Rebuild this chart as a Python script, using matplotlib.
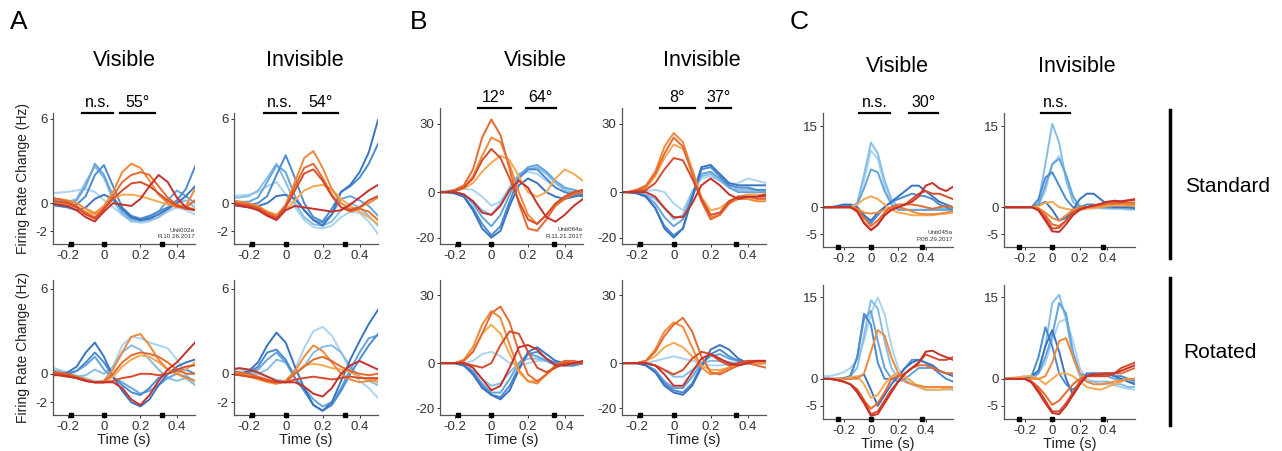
import matplotlib
matplotlib.use('Agg')
import matplotlib.pyplot as plt
import matplotlib.transforms as mtransforms

plt.rcParams['font.family'] = ['Liberation Sans', 'DejaVu Sans']
plt.rcParams['axes.unicode_minus'] = False

# time grids (s)
t_ab = [-0.3, -0.25, -0.2, -0.15, -0.1, -0.05, 0.0, 0.05, 0.1, 0.15, 0.2,
        0.25, 0.3, 0.35, 0.4, 0.45, 0.5]
t_c = [-0.35, -0.3, -0.25, -0.2, -0.15, -0.1, -0.05, 0.0, 0.05, 0.1, 0.15,
       0.2, 0.25, 0.3, 0.35, 0.4, 0.45, 0.5, 0.55, 0.6]

# light blue -> dark blue, light orange -> dark red
colors = ['#a9d3f0', '#86bde6', '#64a4dc', '#4a8bd0', '#3a74c0',
          '#f4a850', '#ee8a3a', '#e56a30', '#d84b2b', '#c8302a']

# ---- A : Unit002a ----
A_vis_std = [
    [0.7, 0.75, 0.8, 0.9, 1.0, 0.8, 0.2, -0.3, -0.8, -1.2, -1.4, -1.3, -1.0, -0.6, -0.3, -0.5, -0.8],
    [0.3, 0.2, 0.1, 0.3, 1.5, 2.6, 1.8, 0.2, -0.8, -1.3, -1.3, -1.2, -1.0, -0.5, 0.0, 0.2, -0.3],
    [0.1, 0.0, -0.1, 0.2, 1.2, 2.8, 2.0, 0.5, -0.6, -1.1, -1.2, -1.0, -0.6, 0.2, 0.9, 0.5, 0.0],
    [0.0, -0.1, -0.2, -0.1, 0.5, 2.0, 2.7, 1.2, -0.3, -0.9, -1.1, -0.9, -0.6, -0.3, 0.2, 1.0, 2.6],
    [-0.1, -0.2, -0.3, -0.5, -0.3, 0.3, 0.6, 0.3, -0.4, -1.0, -1.2, -1.1, -0.8, -0.4, 0.0, 0.5, 1.2],
    [0.1, 0.0, -0.1, -0.3, -0.6, -0.8, -0.3, 0.3, 0.6, 0.6, 0.5, 0.3, 0.1, -0.1, -0.2, -0.3, -0.4],
    [0.3, 0.3, 0.2, 0.0, -0.4, -0.7, -0.2, 0.8, 2.2, 2.8, 2.5, 1.6, 0.6, 0.0, -0.3, -0.2, 1.0],
    [0.4, 0.3, 0.1, -0.2, -0.7, -1.0, -0.4, 0.5, 1.5, 2.0, 2.2, 2.0, 1.2, 0.4, -0.1, -0.3, 0.2],
    [0.2, 0.1, 0.0, -0.3, -0.8, -1.1, -0.4, 0.3, 0.9, 1.4, 1.5, 1.2, 0.7, 0.2, -0.2, -0.4, -0.5],
    [0.0, -0.1, -0.2, -0.5, -1.0, -1.3, -0.6, 0.0, -0.1, -0.2, 0.3, 1.2, 2.0, 1.5, 0.4, -0.3, -0.5],
]
A_inv_std = [
    [0.5, 0.55, 0.6, 0.8, 1.2, 1.5, 0.6, -0.3, -1.2, -1.7, -1.8, -1.6, -1.0, -0.6, -0.7, -1.3, -2.2],
    [0.4, 0.4, 0.5, 0.9, 1.8, 2.8, 1.5, 0.0, -1.0, -1.5, -1.6, -1.3, -0.5, 0.0, -0.3, -0.9, -1.6],
    [0.2, 0.1, 0.1, 0.4, 1.5, 2.7, 2.2, 0.5, -0.5, -1.2, -1.4, -0.8, 0.3, 0.5, 0.2, -0.2, -0.9],
    [0.0, -0.1, -0.1, 0.0, 0.5, 2.0, 3.4, 1.8, 0.0, -1.0, -1.3, -0.4, 0.8, 1.2, 1.8, 2.8, 4.2],
    [-0.1, -0.2, -0.3, -0.2, 0.0, 0.5, 0.6, 0.3, -0.5, -1.2, -1.6, -0.8, 0.8, 1.3, 2.2, 3.6, 5.9],
    [0.0, -0.1, -0.2, -0.3, -0.6, -0.8, -0.5, 0.2, 0.9, 1.2, 1.3, 1.0, 0.3, -0.2, -0.6, -1.0, -1.5],
    [0.2, 0.1, 0.0, -0.2, -0.6, -0.9, -0.1, 1.5, 3.2, 3.7, 2.5, 1.0, 0.0, -0.4, -0.3, 0.0, 0.4],
    [0.1, 0.0, -0.1, -0.3, -0.7, -1.0, -0.2, 1.2, 2.5, 2.8, 1.8, 0.6, -0.3, -0.6, -0.4, -0.6, -1.2],
    [0.0, -0.1, -0.2, -0.4, -0.8, -1.1, -0.3, 0.9, 2.1, 2.4, 1.6, 0.5, -0.3, -0.5, -0.3, 0.2, 0.5],
    [-0.1, -0.2, -0.3, -0.5, -0.9, -1.2, -0.5, -0.2, -0.3, -0.4, -0.5, -0.6, -0.5, -0.1, 0.4, 0.9, 1.3],
]
A_vis_rot = [
    [0.5, 0.3, 0.1, -0.1, -0.3, -0.5, -0.5, 0.5, 2.0, 2.6, 2.5, 2.2, 2.0, 1.8, 1.0, 0.0, -0.8],
    [0.3, 0.2, 0.0, -0.2, -0.1, 0.3, 0.0, 0.5, 1.5, 2.0, 1.7, 1.0, 0.3, -0.3, -0.5, -0.3, -0.8],
    [0.0, 0.0, 0.0, 0.2, 0.6, 1.2, 0.3, -0.3, -0.6, -1.0, -1.4, -1.2, -0.8, -0.3, 0.0, -0.2, -0.5],
    [-0.1, 0.0, 0.0, 0.2, 0.8, 1.5, 0.8, -0.2, -0.8, -1.3, -1.5, -1.0, -0.3, 0.0, 0.2, 0.3, 0.0],
    [-0.2, 0.0, 0.1, 0.5, 1.5, 2.2, 1.2, -0.2, -1.2, -2.0, -2.3, -1.8, -0.8, 0.0, 0.5, 0.8, 1.0],
    [0.0, -0.1, -0.2, -0.3, -0.5, -0.6, -0.6, -0.2, 0.5, 1.0, 1.3, 1.2, 0.8, 0.3, 0.0, 0.3, 0.8],
    [0.1, 0.0, -0.1, -0.3, -0.5, -0.6, -0.5, 0.3, 1.5, 2.6, 2.8, 2.0, 1.0, 0.3, 0.0, -0.3, -0.5],
    [0.2, 0.1, 0.0, -0.2, -0.4, -0.6, -0.6, 0.0, 0.8, 1.3, 1.5, 1.4, 1.2, 0.8, 0.3, 0.0, 0.0],
    [0.0, 0.0, -0.1, -0.3, -0.5, -0.6, -0.6, -0.5, -0.3, -0.2, 0.0, 0.0, -0.1, 0.0, 0.3, 0.5, 0.6],
    [-0.1, -0.1, -0.2, -0.3, -0.5, -0.6, -0.6, -0.6, -1.0, -1.8, -2.2, -1.5, -0.5, 0.3, 0.8, 1.5, 2.2],
]
A_inv_rot = [
    [0.3, 0.3, 0.2, 0.0, -0.2, -0.4, -0.5, 0.3, 1.8, 3.0, 3.3, 2.7, 1.5, 0.3, -0.5, -1.0, -1.7],
    [0.2, 0.1, 0.0, 0.0, 0.3, 1.0, 0.8, 0.0, 0.5, 1.5, 1.9, 2.0, 1.5, 0.5, -0.2, -0.5, -0.8],
    [0.0, 0.0, 0.1, 0.3, 1.0, 1.5, 0.8, -0.3, -1.0, -1.8, -2.3, -2.0, -1.0, 0.3, 1.5, 2.5, 2.7],
    [-0.1, 0.0, 0.1, 0.5, 1.5, 1.7, 1.0, -0.3, -1.2, -2.2, -2.6, -2.2, -1.2, 0.0, 1.0, 2.0, 2.8],
    [-0.2, 0.0, 0.2, 0.8, 2.0, 2.9, 2.2, 0.5, -1.0, -2.2, -2.6, -2.0, -0.5, 1.0, 2.3, 3.5, 4.5],
    [0.0, -0.1, -0.2, -0.4, -0.6, -0.7, -0.5, 0.0, 0.6, 0.7, 0.6, 0.4, 0.3, 0.1, -0.2, -0.4, -0.6],
    [0.1, 0.0, -0.1, -0.3, -0.5, -0.7, -0.5, 0.2, 1.2, 2.0, 1.6, 0.8, 0.0, -0.4, -0.6, -0.5, -0.4],
    [0.2, 0.1, 0.0, -0.2, -0.4, -0.6, -0.6, 0.0, 0.5, 1.0, 1.2, 0.9, 0.5, 0.2, 0.0, -0.1, 0.0],
    [0.0, -0.1, -0.2, -0.3, -0.5, -0.6, -0.6, -0.4, -0.3, -0.2, -0.3, -0.4, -0.3, -0.2, -0.3, -0.3, -0.3],
    [0.3, 0.4, 0.3, 0.1, -0.2, -0.5, -0.6, -0.6, -0.9, -1.4, -1.6, -1.0, 0.0, 0.6, 0.9, 0.6, 0.3],
]

# ---- B : Unit064a ----
B_vis_std = [
    [0, 0.5, 1, 1.5, 1, -2, -6, -4, 2, 7, 9, 8, 5, 2, 0, -1, -1],
    [0, 0, 0, -1, -4, -8, -10, -5, 2, 8, 10, 11, 8, 4, 1, 0, 0],
    [0, 0, 0, -1, -5, -11, -15, -10, -1, 7, 11, 12, 9, 5, 2, 1, 0],
    [0, 0, -0.5, -2, -7, -14, -19, -15, -4, 6, 10, 10, 6, 2, 0, -1, -2],
    [0, 0, -0.5, -2, -8, -16, -20, -17, -6, 3, 6, 4, 0, -2, -3, -2, -1],
    [0, 0, 0.5, 1.5, 4, 9, 13, 16, 14, 7, 0, -2, 0, 6, 10, 8, 5],
    [0, 0, 0.5, 2, 7, 16, 24, 22, 12, 0, -10, -14, -10, -5, -2, 0, 1],
    [0, 0, 1, 3, 10, 24, 32, 25, 10, -5, -16, -17, -12, -6, -3, -1, 0],
    [0, 0, 0.5, 2, 6, 14, 19, 15, 6, -4, -12, -14, -10, -5, -2, 0, 1],
    [0, 0, 0, -1, -4, -9, -10, -6, 1, 5, 2, -5, -11, -13, -10, -6, -3],
]
B_inv_std = [
    [0, 0, 0, 0.5, 1, 0, -5, -8, 0, 6, 7, 5, 3, 4, 6, 5, 4],
    [0, 0, 0, -1, -3, -7, -12, -10, 0, 7, 8, 5, 2, 1, 1, 1, 0],
    [0, 0, -0.5, -1.5, -5, -11, -15, -12, -2, 8, 9, 6, 2, 0, 0, 0, 0],
    [0, 0, -0.5, -2, -7, -15, -19, -16, -3, 10, 11, 7, 3, 2, 2, 1, 1],
    [0, 0, -0.5, -2, -7, -16, -20, -16, -2, 11, 12, 8, 4, 3, 3, 3, 3],
    [0, 0, 0.5, 2, 7, 15, 21, 19, 10, -2, -8, -7, -4, -2, -1, -1, -1],
    [0, 0, 1, 3, 9, 20, 26, 22, 10, -3, -11, -10, -5, -3, -3, -4, -4],
    [0, 0, 1, 2.5, 8, 17, 24, 20, 8, -4, -12, -10, -5, -2, -2, -3, -3],
    [0, 0, 0.5, 1, 4, 10, 15, 14, 6, -3, -10, -9, -4, -2, -2, -2, -2],
    [0, 0, 0, 0, -2, -7, -11, -11, -5, 3, 6, 3, -1, -3, -2, -2, -1],
]
B_vis_rot = [
    [0, 0, 0, 0, 1, 4, 5, 3, 0, -1, 0, 1, 1, 0.5, 0, -0.5, -0.5],
    [0, 0, 0, -1, -3, -7, -10, -9, -4, 0, 2, 2, 1, 0, -1, -1, 0],
    [0, 0, 0, -1, -4, -9, -13, -13, -7, 0, 4, 3, 1, -1, -1, -1, 0],
    [0, 0, 0, -1, -4, -10, -14, -15, -10, -2, 4, 5, 2, 0, -1, -1, 0],
    [0, 0, 0, -1, -5, -11, -14, -16, -12, -3, 5, 7, 4, 1, 0, 0, 0],
    [0, 0, 0, 1, 5, 13, 17, 13, 4, -4, -8, -8, -5, -2, 0, 0, 0],
    [0, 0, 0, 1.5, 7, 17, 23, 20, 8, -3, -8, -9, -5, -1, 1, 0, 0],
    [0, 0, 0, 1, 5, 13, 22, 25, 18, 5, -5, -8, -5, -1, 1, 1, 0],
    [0, 0, 0, 0, -1, -2, 0, 8, 14, 13, 5, -2, -4, -2, 0, 0, 0],
    [0, 0, 0, 0, -2, -7, -12, -10, -2, 7, 8, 6, 2, -1, -1, 0, 1],
]
B_inv_rot = [
    [0, 0, 0, 0, 1, 2, 3, 2, 1, 0, -1, -1, -0.5, 0, 0, 0, 0],
    [0, 0, 0, -0.5, -1, -3, -6, -6, -3, 0, 1, 1, 0.5, 0, 0, 0, 0],
    [0, 0, 0, -1, -3, -8, -11, -11, -6, 0, 3, 4, 2, 1, 0, 0, 0],
    [0, 0, 0, -1, -4, -9, -12, -13, -9, -1, 4, 6, 3, 1, 0, 0, 0],
    [0, 0, 0, -1, -4, -10, -13, -14, -10, -2, 6, 8, 6, 2, 0, 0, 0],
    [0, 0, 0, 1, 3, 7, 9, 7, 3, -1, -3, -3, -2, -1, 0, 0, 0],
    [0, 0, 0, 1, 6, 14, 18, 16, 7, -2, -5, -4, -2, 0, 1, 0, 0],
    [0, 0, 0, 1, 5, 12, 17, 20, 14, 3, -4, -5, -3, -1, 0, -1, -2],
    [0, 0, 0, 0, -1, -3, -5, -3, 2, 5, 4, 1, -1, 0, 1, 1, 1],
    [0, 0, 0, 0, -1, -5, -10, -10, -4, 2, 4, 2, 0, -1, 0, 1, 1],
]

# ---- C : Unit045a ----
C_vis_std = [
    [0, 0, 0, 0, 0, 0.5, 5, 10.5, 9, 4, 1, 0, -0.5, -0.5, -0.5, -0.5, -0.5, -0.5, -0.5, -0.5],
    [0, 0, 0, 0, 0, 0.8, 6, 12, 10, 5, 1.5, 0, -0.5, -0.5, -0.5, -0.5, -0.5, -0.3, -0.3, -0.3],
    [0, 0, 0, 0, 0, 0.5, 3.5, 7, 6.5, 3, 0.5, -0.5, -0.5, -0.5, -0.5, -0.5, -0.5, -0.5, -0.5, -0.5],
    [0, 0, 0, 0.2, 0.3, 0, -1.5, -3, -1.5, 0, 1, 1.5, 2, 2.5, 2.2, 2, 1.5, 0.5, 0, -0.5],
    [0, 0, 0.2, 0.5, 0.5, 0, -1.5, -2.5, -1, 0, 1, 2, 3, 4, 4, 3, 2, 1, 0.5, 0],
    [0, 0, 0, 0, 0, 0.5, 1.5, 2, 1.5, 0.5, -0.5, -1, -1.2, -1.5, -1.5, -1.5, -1.5, -1.3, -1.2, -1],
    [0, 0, 0, 0, 0, -0.3, -1, -1.2, -1, -0.5, 0, 0, -0.3, -0.8, -1.2, -1.3, -1.3, -1.2, -1, -0.8],
    [0, 0, 0, 0, 0, -0.5, -2, -3.5, -2.5, -1, 0, 0.5, 0.5, 0.5, 0.3, 0, -0.3, 0, 0.2, 0],
    [0, 0, 0, 0, 0, -0.8, -2.8, -4.2, -3.2, -1.5, -0.5, 0, 0.5, 1.5, 2.5, 3, 2.5, 2.5, 2, 1.5],
    [0, 0, 0, 0, 0, -0.8, -3, -4.3, -3.3, -1.5, -0.5, 0, 0.5, 1, 2, 4, 4.5, 3.5, 3, 3.8],
]
C_inv_std = [
    [0, 0, 0, 0, 0, 0.3, 3, 8, 9.5, 6, 2, 0.3, 0, -0.2, -0.2, -0.3, -0.3, -0.3, -0.5, -0.5],
    [0, 0, 0, 0, 0, 1, 8, 15.5, 12, 5, 1, 0, 0, 0, 0, -0.2, -0.2, -0.2, -0.3, -0.3],
    [0, 0, 0, 0, 0, 0.5, 4, 8, 9, 6, 2, 0, 0, 0, 0, 0, 0, 0, 0, 0],
    [0, 0, 0, 0, 0, 1.5, 5.5, 6.5, 4, 1.5, 0, 0, 0.5, 0.5, 0, 0, 0, 0, 0, 0],
    [0, 0, 0, 0, 0, 0.3, 1, -0.5, -2.5, -2, -0.5, 1.5, 2.5, 2.5, 1.5, 0.5, 0, 0, 0, -0.2],
    [0, 0, 0, 0, 0, 0.2, 0.8, 1, 0, -0.3, -0.5, -0.5, -0.3, -0.2, 0, 0.2, 0.3, 0.3, 0.3, 0.2],
    [0, 0, 0, 0, 0, -0.2, -1, -2, -2.5, -1.5, -0.5, 0, 0, 0, 0.2, 0.5, 0.6, 0.6, 0.5, 0.5],
    [0, 0, 0, 0, 0, -0.3, -1.5, -3.2, -3.5, -2.5, -1, -0.3, 0, 0.2, 0.5, 0.7, 0.7, 0.8, 0.8, 0.8],
    [0, 0, 0, 0, 0, -0.5, -2, -4, -3.8, -2.5, -1, -0.3, 0, 0.3, 0.6, 1, 1, 1, 1.2, 1.3],
    [0, 0, 0, 0, 0, -0.6, -2.5, -4.5, -4.6, -3.2, -1.5, -0.5, 0, 0.3, 0.6, 1, 1.2, 1.1, 1.3, 1.5],
]
C_vis_rot = [
    [0.5, 0.5, 0.8, 1.2, 2, 3.5, 7, 12, 15, 12, 6, 2, 0, -1, -1.5, -2, -2, -2, -2, -2],
    [0, 0, 0, 0.2, 0.5, 2, 8, 14.5, 13, 7, 2, 0, -0.5, -1, -1.5, -1.5, -1.5, -1.5, -1.5, -2],
    [0, 0, 0, 0, 0.5, 4, 11, 12.5, 7, 2, 0, -0.5, 0, 1, 2, 2, 2, 1.5, 1, 1],
    [0, 0, 0, 0, 0.5, 4, 12, 10, 3, 0, 0, 0.5, 2, 3.5, 3.5, 3, 2, 1, 0, -0.5],
    [0, 0, 0, 0, 0, 0.3, 0.8, -2, -5, -3, -1, 0.5, 2, 3, 3.5, 3, 2.5, 1.5, 1, 0.5],
    [0, 0, 0, 0, 0.3, 0.5, -1, -3.5, -3, -1, 0.5, 1, 0.5, -0.5, -1.5, -2, -2, -2, -1.8, -1.8],
    [0, 0, 0, 0, 0, 0, 1, 5, 9, 8, 4, 1, -0.5, -1, -1.2, -1.5, -1.5, -1.5, -1.5, -1.5],
    [0, 0, -0.2, -0.5, -1, -2, -4, -5.5, -4.5, -2.5, 0, 0.5, 1, 2, 2.5, 2.5, 2, 1.5, 1, 1],
    [0, 0, -0.2, -0.5, -1, -2, -4, -6.5, -6, -4, -2, -0.5, 1, 2, 3, 4.5, 4, 3.5, 3.5, 4],
    [0, 0, -0.2, -0.5, -1, -2.5, -4.5, -6.8, -6.5, -4.5, -2.5, -0.5, 1, 2, 3, 5, 5.2, 4.5, 4, 3.5],
]
C_inv_rot = [
    [0, 0, 0, 0, 0.3, 1, 3, 7, 10.5, 11, 7, 2, 0, -0.5, -1, -1, -1.2, -1.5, -1.8, -2],
    [0, 0, 0, 0, 0.2, 1.5, 6, 14, 15.5, 11, 4, 0.5, -0.5, -0.5, -0.5, -0.5, -1, -1, -1.5, -1.5],
    [0, 0, 0, 0, 0, 1, 4, 8, 14, 12, 5, 1, 0.5, 0.5, 0.5, 0.5, 0, 0, -0.5, -1],
    [0, 0, 0, 0, 0.5, 4, 9.5, 6, 1, -1, -2, -1, 0.5, 1, 1, 1, 0.5, 0.5, 0, -0.5],
    [0, 0, 0, 0, 0.5, 1.5, 6, 9, 5, 0, -3, -1, 1, 1, 1, 1, 0.5, 0, -0.5, -1],
    [0, 0.2, 0.3, 0.5, 0.5, 0, -1, 0, 1, 1, 0.5, -0.5, -1.5, -1.8, -2, -1.5, -1, -0.5, 0, 0],
    [0, 0, 0, 0, 0, 0, 0.5, 3, 7, 7.5, 4, 1, -0.5, -1, -1, -0.8, -0.5, -0.3, 0, 0],
    [0, 0, 0, 0, -0.5, -1.5, -3, -4.8, -4, -2.5, -1, 0, 0.5, 0.8, 1, 1, 1, 1, 1.5, 2],
    [0, 0, 0, 0, -0.5, -2, -4, -6, -6, -4.5, -2.5, -0.5, 0.5, 0.5, 0.5, 0.5, 1, 2, 2.5, 3],
    [0, 0, 0, 0, -0.7, -2.5, -4.5, -6.3, -6.5, -5, -3, -1, 0.5, 0.8, 0.8, 1, 1, 1.5, 2, 2.5],
]

# event markers on the time axis
events_a = [-0.18, 0.0, 0.32]
events_b = [-0.18, 0.0, 0.34]
events_c = [-0.24, 0.0, 0.37]

W, H = 1282, 451
fig = plt.figure(figsize=(W / 100, H / 100), dpi=100)


def px_axes(left, right, top, bottom):
    return fig.add_axes([left / W, 1 - bottom / H, (right - left) / W, (bottom - top) / H])


panels = [
    # data, t, box(l, r, top, bottom), xlim, ylim, yticks, events, sig bars, unit, xlabel, ylabel
    (A_vis_std, t_ab, (53, 195, 113, 244), (-0.28, 0.5), (-2.9, 6.4), [-2, 0, 6], events_a,
     [('n.s.', -0.12, 0.05), ('55°', 0.09, 0.28)], 'Unit002a\nR.10.26.2017', False, True),
    (A_inv_std, t_ab, (234, 378, 113, 244), (-0.28, 0.5), (-2.9, 6.4), [-2, 0, 6], events_a,
     [('n.s.', -0.12, 0.055), ('54°', 0.095, 0.286)], None, False, False),
    (A_vis_rot, t_ab, (53, 195, 280, 415), (-0.28, 0.5), (-2.9, 6.6), [-2, 0, 6], events_a,
     [], None, True, True),
    (A_inv_rot, t_ab, (234, 378, 280, 415), (-0.28, 0.5), (-2.9, 6.6), [-2, 0, 6], events_a,
     [], None, True, False),
    (B_vis_std, t_ab, (440, 583, 108, 244), (-0.28, 0.5), (-22.8, 37), [-20, 0, 30], events_b,
     [('12°', -0.075, 0.105), ('64°', 0.19, 0.35)], 'Unit064a\nR.11.21.2017', False, False),
    (B_inv_std, t_ab, (622, 766, 108, 244), (-0.28, 0.5), (-22.8, 37), [-20, 0, 30], events_b,
     [('8°', -0.076, 0.113), ('37°', 0.173, 0.31)], None, False, False),
    (B_vis_rot, t_ab, (440, 583, 280, 415), (-0.28, 0.5), (-22.9, 36.7), [-20, 0, 30], events_b,
     [], None, True, False),
    (B_inv_rot, t_ab, (622, 766, 280, 415), (-0.28, 0.5), (-22.9, 36.7), [-20, 0, 30], events_b,
     [], None, True, False),
    (C_vis_std, t_c, (823, 953, 113, 247), (-0.35, 0.6), (-7.4, 17.5), [-5, 0, 15], events_c,
     [('n.s.', -0.087, 0.143), ('30°', 0.279, 0.49)], 'Unit045a\nP.08.29.2017', False, False),
    (C_inv_std, t_c, (1004, 1135, 113, 247), (-0.35, 0.6), (-7.4, 17.5), [-5, 0, 15], events_c,
     [('n.s.', -0.08, 0.13)], None, False, False),
    (C_vis_rot, t_c, (823, 953, 285, 419), (-0.35, 0.6), (-7.4, 17.3), [-5, 0, 15], events_c,
     [], None, True, False),
    (C_inv_rot, t_c, (1004, 1135, 285, 419), (-0.35, 0.6), (-7.4, 17.3), [-5, 0, 15], events_c,
     [], None, True, False),
]

for data, t, box, xlim, ylim, yticks, events, sigs, unit, xlab, ylab in panels:
    ax = px_axes(*box)
    for curve, c in zip(data, colors):
        ax.plot(t, curve, color=c, lw=1.4, solid_joinstyle='round')
    ax.set_xlim(*xlim)
    ax.set_ylim(*ylim)
    ax.set_xticks([-0.2, 0, 0.2, 0.4])
    ax.set_xticklabels(['-0.2', '0', '0.2', '0.4'])
    ax.set_yticks(yticks)
    ax.set_yticklabels([str(v) for v in yticks])
    for s in ['top', 'right']:
        ax.spines[s].set_visible(False)
    for s in ['left', 'bottom']:
        ax.spines[s].set_color('#555555')
        ax.spines[s].set_linewidth(0.9)
    ax.tick_params(labelsize=9.5, colors='#333333', length=2, width=0.7, pad=2)
    ax.plot(events, [ylim[0]] * len(events), 's', color='black', ms=3.5, clip_on=False, zorder=5)
    trans = mtransforms.blended_transform_factory(ax.transData, ax.transAxes)
    for label, x0, x1 in sigs:
        ax.plot([x0, x1], [1.0, 1.0], color='black', lw=1.6, transform=trans, clip_on=False)
        ax.text((x0 + x1) / 2, 1.02, label, transform=trans, ha='center', va='bottom', fontsize=11.5)
    if unit:
        ax.text(1.0, 0.04, unit, transform=ax.transAxes, ha='right', va='bottom',
                fontsize=4.5, color='#333333', linespacing=1.3)
    if xlab:
        ax.set_xlabel('Time (s)', fontsize=10.5, labelpad=0, color='#222222')
    if ylab:
        ax.set_ylabel('Firing Rate Change (Hz)', fontsize=10, labelpad=4, color='#222222')

# column titles
for x, y, s in [(124, 60, 'Visible'), (305, 60, 'Invisible'),
                (535, 60, 'Visible'), (702, 60, 'Invisible'),
                (897, 66, 'Visible'), (1077, 66, 'Invisible')]:
    fig.text(x / W, 1 - y / H, s, ha='center', va='center', fontsize=15.5)

# panel letters
for x, s in [(10, 'A'), (410, 'B'), (790, 'C')]:
    fig.text(x / W, 1 - 22 / H, s, ha='left', va='center', fontsize=19)

# row labels and bars
fig.text(1228 / W, 1 - 187 / H, 'Standard', ha='center', va='center', fontsize=15)
fig.text(1220 / W, 1 - 353 / H, 'Rotated', ha='center', va='center', fontsize=15)
fig.add_artist(plt.Line2D([1170 / W, 1170 / W], [1 - 110 / H, 1 - 258 / H], color='black', lw=2.5))
fig.add_artist(plt.Line2D([1170 / W, 1170 / W], [1 - 278 / H, 1 - 425 / H], color='black', lw=2.5))

fig.savefig('out.png', dpi=100)
